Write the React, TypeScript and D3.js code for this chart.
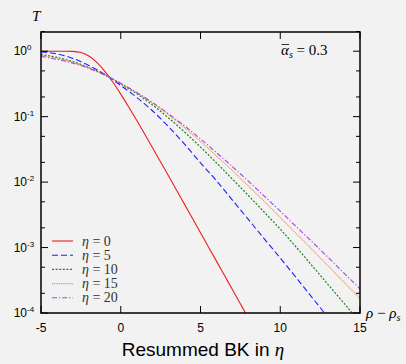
import React from "react";
import * as d3 from "d3";

const W = 406;
const H = 364;

const xTicks = [-5, 0, 5, 10, 15];
const yTicks = [1, 1e-1, 1e-2, 1e-3, 1e-4];
const yTickExp = ["0", "-1", "-2", "-3", "-4"];

const redX = [-5, -4.5, -4, -3.5, -3, -2.5, -2, -1.5, -1, -0.5, 0, 0.5, 1, 1.5, 2, 2.5, 3, 3.5, 4, 4.5, 5, 5.5, 6, 6.5, 7, 7.5, 8];
const redT = [1, 1, 1, 0.9997, 0.9934, 0.9526, 0.842, 0.674, 0.493, 0.338, 0.221, 0.1407, 0.0879, 0.0543, 0.0333, 0.0203, 0.01237, 0.00752, 0.00457, 0.002777, 0.001684, 0.001022, 0.00062, 0.000376, 0.000228, 0.0001383, 0.0000839];

const evoX = [-5, -4, -3, -2, -1, 0, 1, 2, 3, 4, 5, 6, 7, 8, 9, 10, 11, 12, 13, 14, 15];
const blueT = [0.977, 0.912, 0.776, 0.603, 0.442, 0.299, 0.197, 0.122, 0.07, 0.038, 0.0197, 0.0105, 0.00531, 0.00269, 0.00136, 6.92e-4, 3.47e-4, 1.72e-4, 8.51e-5];
const greenT = [0.891, 0.804, 0.692, 0.562, 0.437, 0.316, 0.224, 0.15, 0.0955, 0.0582, 0.0343, 0.0197, 0.0111, 0.00624, 0.00347, 0.00191, 0.001016, 5.25e-4, 2.72e-4, 1.41e-4, 7.24e-5];
const orangeT = [0.861, 0.776, 0.676, 0.556, 0.434, 0.32, 0.232, 0.16, 0.106, 0.0676, 0.0417, 0.0251, 0.015, 0.00871, 0.00507, 0.00288, 0.00164, 9.33e-4, 5.25e-4, 2.95e-4, 1.66e-4];
const purpleT = [0.832, 0.75, 0.656, 0.547, 0.431, 0.324, 0.234, 0.164, 0.11, 0.0721, 0.0457, 0.0282, 0.0172, 0.01035, 0.0061, 0.00359, 0.00209, 0.00122, 7.08e-4, 4.07e-4, 2.34e-4];

const etaLabels = ["0", "5", "10", "15", "20"];

const series = [
  { x: redX, y: redT, color: "#ee1c1c", dash: "none", width: 1.1 },
  { x: evoX, y: blueT, color: "#1f1fff", dash: "6,3", width: 1.1 },
  { x: evoX, y: greenT, color: "#1d7f1d", dash: "2,1.6", width: 1.2 },
  { x: evoX, y: orangeT, color: "#f0904a", dash: "1,0.8", width: 1.1 },
  { x: evoX, y: purpleT, color: "#b040e6", dash: "5,2,1.2,2", width: 1.1 },
];

const L = 41, R = 360, T = 32, B = 313;

export default function App() {
  const x = d3.scaleLinear().domain([-5, 15]).range([L, R]);
  const y = d3.scaleLog().domain([1e-4, 2]).range([B, 31.5]);

  const minor: number[] = [];
  [1, 1e-1, 1e-2, 1e-3].forEach((d) => {
    minor.push(d * 0.5, d * 0.2);
  });
  minor.push(2);

  const serif = "'Liberation Serif', 'DejaVu Serif', serif";
  const sans = "'Liberation Sans', Arial, sans-serif";

  return (
    <svg
      width={W}
      height={H}
      style={{ position: "absolute", left: 0, top: 0, background: "#f2f2f2" }}
    >
      <rect x={0} y={0} width={W} height={H} fill="#f2f2f2" />
      <defs>
        <clipPath id="plotclip">
          <rect x={L} y={T} width={R - L} height={B - T} />
        </clipPath>
      </defs>

      <g clipPath="url(#plotclip)">
        {series.map((s, i) => {
          const pts: [number, number][] = s.y.map((v, j) => [x(s.x[j]), y(v)]);
          const path = d3.line().curve(d3.curveMonotoneX)(pts) || "";
          return (
            <path
              key={i}
              d={path}
              fill="none"
              stroke={s.color}
              strokeWidth={s.width}
              strokeDasharray={s.dash}
            />
          );
        })}
      </g>

      {xTicks.map((t, i) => (
        <g key={"xt" + i}>
          <line x1={x(t)} x2={x(t)} y1={B} y2={B - 7} stroke="#000" strokeWidth={1} />
          <line x1={x(t)} x2={x(t)} y1={T} y2={T + 7} stroke="#000" strokeWidth={1} />
          <text x={x(t)} y={332} textAnchor="middle" fontFamily={sans} fontSize={12} fill="#000">
            {t}
          </text>
        </g>
      ))}
      {yTicks.map((t, i) => (
        <g key={"yt" + i}>
          <line x1={L} x2={L + 7} y1={y(t)} y2={y(t)} stroke="#000" strokeWidth={1} />
          <line x1={R} x2={R - 7} y1={y(t)} y2={y(t)} stroke="#000" strokeWidth={1} />
          <text x={27} y={y(t) + 4} textAnchor="end" fontFamily={sans} fontSize={12} fill="#000">
            10
          </text>
          <text x={27} y={y(t) - 1} textAnchor="start" fontFamily={sans} fontSize={8} fill="#000">
            {yTickExp[i]}
          </text>
        </g>
      ))}
      {minor.map((t, i) => (
        <g key={"ym" + i}>
          <line x1={L} x2={L + 4} y1={y(t)} y2={y(t)} stroke="#000" strokeWidth={1} />
          <line x1={R} x2={R - 4} y1={y(t)} y2={y(t)} stroke="#000" strokeWidth={1} />
        </g>
      ))}

      <rect x={L} y={T} width={R - L} height={B - T} fill="none" stroke="#000" strokeWidth={1.5} />

      <text x={32} y={21} fontFamily={serif} fontStyle="italic" fontSize={15} fill="#000">
        T
      </text>
      <text x={366} y={318} fontFamily={serif} fontSize={15} fill="#000">
        <tspan fontStyle="italic">ρ</tspan>
        <tspan> − </tspan>
        <tspan fontStyle="italic">ρ</tspan>
        <tspan fontStyle="italic" fontSize={10} dy={3}>s</tspan>
      </text>
      <text x={203} y={356} textAnchor="middle" fontFamily={sans} fontSize={19} fill="#000">
        <tspan>Resummed BK in </tspan>
        <tspan fontFamily={serif} fontStyle="italic">η</tspan>
      </text>

      <text x={281} y={55} fontFamily={serif} fontSize={15} fill="#000">
        <tspan fontStyle="italic">α</tspan>
        <tspan fontStyle="italic" fontSize={10} dy={3}>s</tspan>
        <tspan dy={-3}> = 0.3</tspan>
      </text>
      <line x1={281.5} x2={289} y1={44.5} y2={44.5} stroke="#000" strokeWidth={0.8} />

      {series.map((s, i) => {
        const ly = 241 + i * 14.2;
        return (
          <g key={"lg" + i}>
            <line
              x1={52}
              x2={73}
              y1={ly}
              y2={ly}
              stroke={s.color}
              strokeWidth={s.width}
              strokeDasharray={s.dash}
            />
            <text x={82} y={ly + 4.5} fontFamily={serif} fontSize={14} fill="#333">
              <tspan fontStyle="italic">η</tspan>
              <tspan> = {etaLabels[i]}</tspan>
            </text>
          </g>
        );
      })}
    </svg>
  );
}
